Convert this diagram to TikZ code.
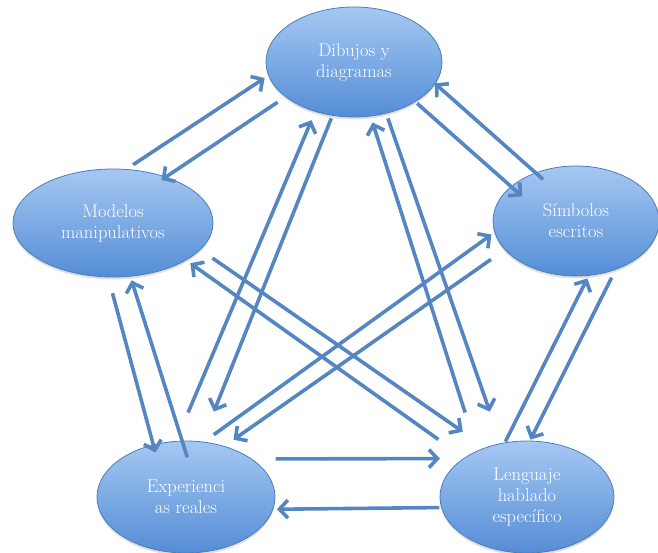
\documentclass[tikz,border=0pt]{standalone}
\usepackage{xcolor}
\usepackage{tikz}
\usetikzlibrary{arrows.meta,shapes.geometric,shadows}
\definecolor{mapEdge}{HTML}{4A7EBB}
\definecolor{mapLine}{HTML}{5486C2}
\definecolor{mapTop}{HTML}{A6C8F2}
\definecolor{mapBottom}{HTML}{548DD6}

\begin{document}
\begin{tikzpicture}[
    x=1pt, y=-1pt,
    bubble/.style={ellipse, draw=mapEdge, line width=0.8pt, top color=mapTop, bottom color=mapBottom,
        text=white, align=center, inner sep=0pt, font=\fontsize{18.5}{21}\selectfont,
        drop shadow={opacity=0.25, shadow xshift=0pt, shadow yshift=-2.5pt}},
    link/.style={-{Straight Barb[length=8.5pt,width=18pt]}, line width=3.6pt, draw=mapLine}
]
\useasboundingbox (0,0) rectangle (658,553);

\node[bubble, minimum width=176pt, minimum height=110pt] (dib) at (354,62) {Dibujos y\\diagramas};
\node[bubble, minimum width=200pt, minimum height=108pt] (mod) at (113,223) {Modelos\\manipulativos};
\node[bubble, minimum width=166pt, minimum height=110pt] (sim) at (576,221) {Símbolos\\escritos};
\node[bubble, minimum width=178pt, minimum height=112pt] (exp) at (186,497) {Experienci\\as reales};
\node[bubble, minimum width=174pt, minimum height=112pt] (len) at (527,497) {Lenguaje\\hablado\\específico};

% outer ring
\draw[link, shorten <=8pt, shorten >=4.4pt] (mod.76) -- (dib.189);
\draw[link, shorten <=9.4pt, shorten >=-5.7pt] (dib.207) -- (mod.41.7);
\draw[link, shorten <=-10.3pt, shorten >=-0.8pt] (sim.130.3) -- (dib.345.8);
\draw[link, shorten <=2.3pt, shorten >=-15pt] (dib.327.2) -- (sim.152.5);
\draw[link, shorten <=16.5pt, shorten >=-8.3pt] (mod.265.6) -- (exp.122.5);
\draw[link, shorten <=-17.5pt, shorten >=4pt] (exp.94.3) -- (mod.288.5);
\draw[link, shorten <=1pt, shorten >=3pt] (len.112.6) -- (sim.283.9);
\draw[link, shorten <=8.7pt, shorten >=1.1pt] (sim.309.6) -- (len.87.4);
\draw[link, shorten <=23.6pt, shorten >=23.1pt] (exp.30.2) -- (len.149.3);
\draw[link, shorten <=1.7pt, shorten >=3.7pt] (len.187.3) -- (exp.352.8);

% inner star
\draw[link, shorten <=30.8pt, shorten >=9.2pt] (exp.100.2) -- (dib.232.2);
\draw[link, shorten <=2.8pt, shorten >=32.2pt] (dib.248.5) -- (exp.74.9);
\draw[link, shorten <=40pt, shorten >=6.4pt] (len.137.4) -- (dib.287.6);
\draw[link, shorten <=5.1pt, shorten >=33.4pt] (dib.302.2) -- (len.116);
\draw[link, shorten <=14.6pt, shorten >=27.5pt] (mod.343.8) -- (len.130.2);
\draw[link, shorten <=31.7pt, shorten >=5.1pt] (len.148.6) -- (mod.333.1);
\draw[link, shorten <=12.1pt, shorten >=3.6pt] (exp.72.7) -- (sim.188.3);
\draw[link, shorten <=16.8pt, shorten >=11.1pt] (sim.202.7) -- (exp.53.2);

\end{tikzpicture}
\end{document}
